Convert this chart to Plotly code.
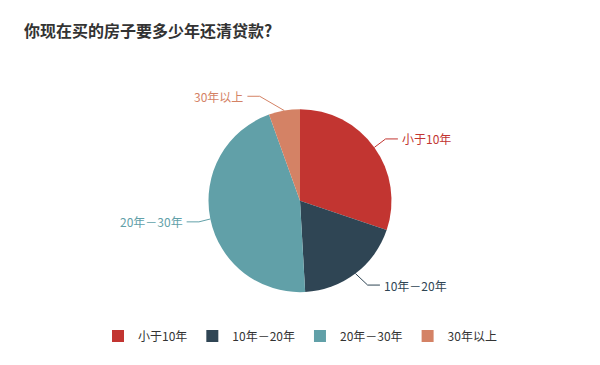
import math
import plotly.graph_objects as go

# ---- data ----
categories = ["小于10年", "10年－20年", "20年－30年", "30年以上"]
values = [30.2, 18.9, 45.4, 5.5]
colors = ["#c23531", "#2f4554", "#61a0a8", "#d48265"]
title_text = "你现在买的房子要多少年还清贷款?"

# ---- layout constants (style), in page pixels ----
PW, PH = 600, 365          # window
OFF = 8                    # default body margin of the page
W, H = PW - OFF, PH - OFF  # figure size
CX, CY, R = 300.0, 200.7, 91.5
LEN1, LEN2 = 14.5, 12.3
FONT = "Noto Sans CJK SC, Noto Sans, sans-serif"


def px(x):
    return (x - OFF) / W


def py(y):
    return (PH - y) / H


fig = go.Figure()

fig.add_trace(go.Pie(
    labels=categories, values=values, sort=False, direction="clockwise",
    rotation=0, marker=dict(colors=colors, line=dict(width=0)),
    textinfo="none", hoverinfo="label+value+percent",
    domain=dict(x=[px(CX - R), px(CX + R)], y=[py(CY + R), py(CY - R)]),
))

# ---- outside label layout (ECharts-like), derived from the data ----
total = sum(values)
cum = 0.0
labels = []
for cat, v, col in zip(categories, values, colors):
    mid = (cum + v / 2) / total * 2 * math.pi
    cum += v
    dx, dy = math.sin(mid), -math.cos(mid)
    x1, y1 = CX + R * dx, CY + R * dy
    y2 = CY + (R + LEN1) * dy
    side = 1 if dx >= 0 else -1
    labels.append(dict(cat=cat, col=col, x1=x1, y1=y1, y=y2, side=side))

RR = R + LEN1 + LEN2
for side in (1, -1):
    lst = sorted([l for l in labels if l["side"] == side], key=lambda l: l["y"])
    for down in (False, True):
        sub = [l for l in lst if (l["y"] >= CY) == down]
        last = 1e9 if down else 0
        for l in sub:
            dyy = abs(l["y"] - CY)
            ddx = math.sqrt(max(RR * RR - dyy * dyy, 0))
            if down and ddx >= last:
                ddx = last - 10
            if (not down) and ddx <= last:
                ddx = last + 10
            l["tx"] = CX + ddx * side
            last = ddx

for l in labels:
    s = l["side"]
    x3 = l["tx"] - 3 * s
    x2 = x3 - LEN2 * s
    fig.add_trace(go.Scatter(
        x=[l["x1"], x2, x3], y=[l["y1"], l["y"], l["y"]], mode="lines",
        line=dict(color=l["col"], width=1), showlegend=False, hoverinfo="skip",
        xaxis="x", yaxis="y",
    ))
    fig.add_annotation(
        x=l["tx"], y=l["y"], xref="x", yref="y", text=l["cat"], showarrow=False,
        xanchor="left" if s > 0 else "right", yanchor="middle",
        font=dict(family=FONT, size=12, color=l["col"]), borderpad=0,
    )

fig.update_layout(
    width=W, height=H, margin=dict(l=0, r=0, t=0, b=0),
    paper_bgcolor="white", plot_bgcolor="rgba(0,0,0,0)",
    xaxis=dict(range=[OFF, PW], visible=False, fixedrange=True, domain=[0, 1]),
    yaxis=dict(range=[PH, OFF], visible=False, fixedrange=True, domain=[0, 1]),
    title=dict(text="<b>" + title_text + "</b>", x=px(24), xanchor="left",
               y=py(31), yanchor="middle", yref="paper",
               font=dict(family=FONT, size=16, color="#333333")),
    legend=dict(orientation="h", x=px(300), xanchor="center", y=py(336),
                yanchor="middle", font=dict(family=FONT, size=12, color="#333333"),
                traceorder="normal"),
    showlegend=True,
)

fig.write_html("out.html")
